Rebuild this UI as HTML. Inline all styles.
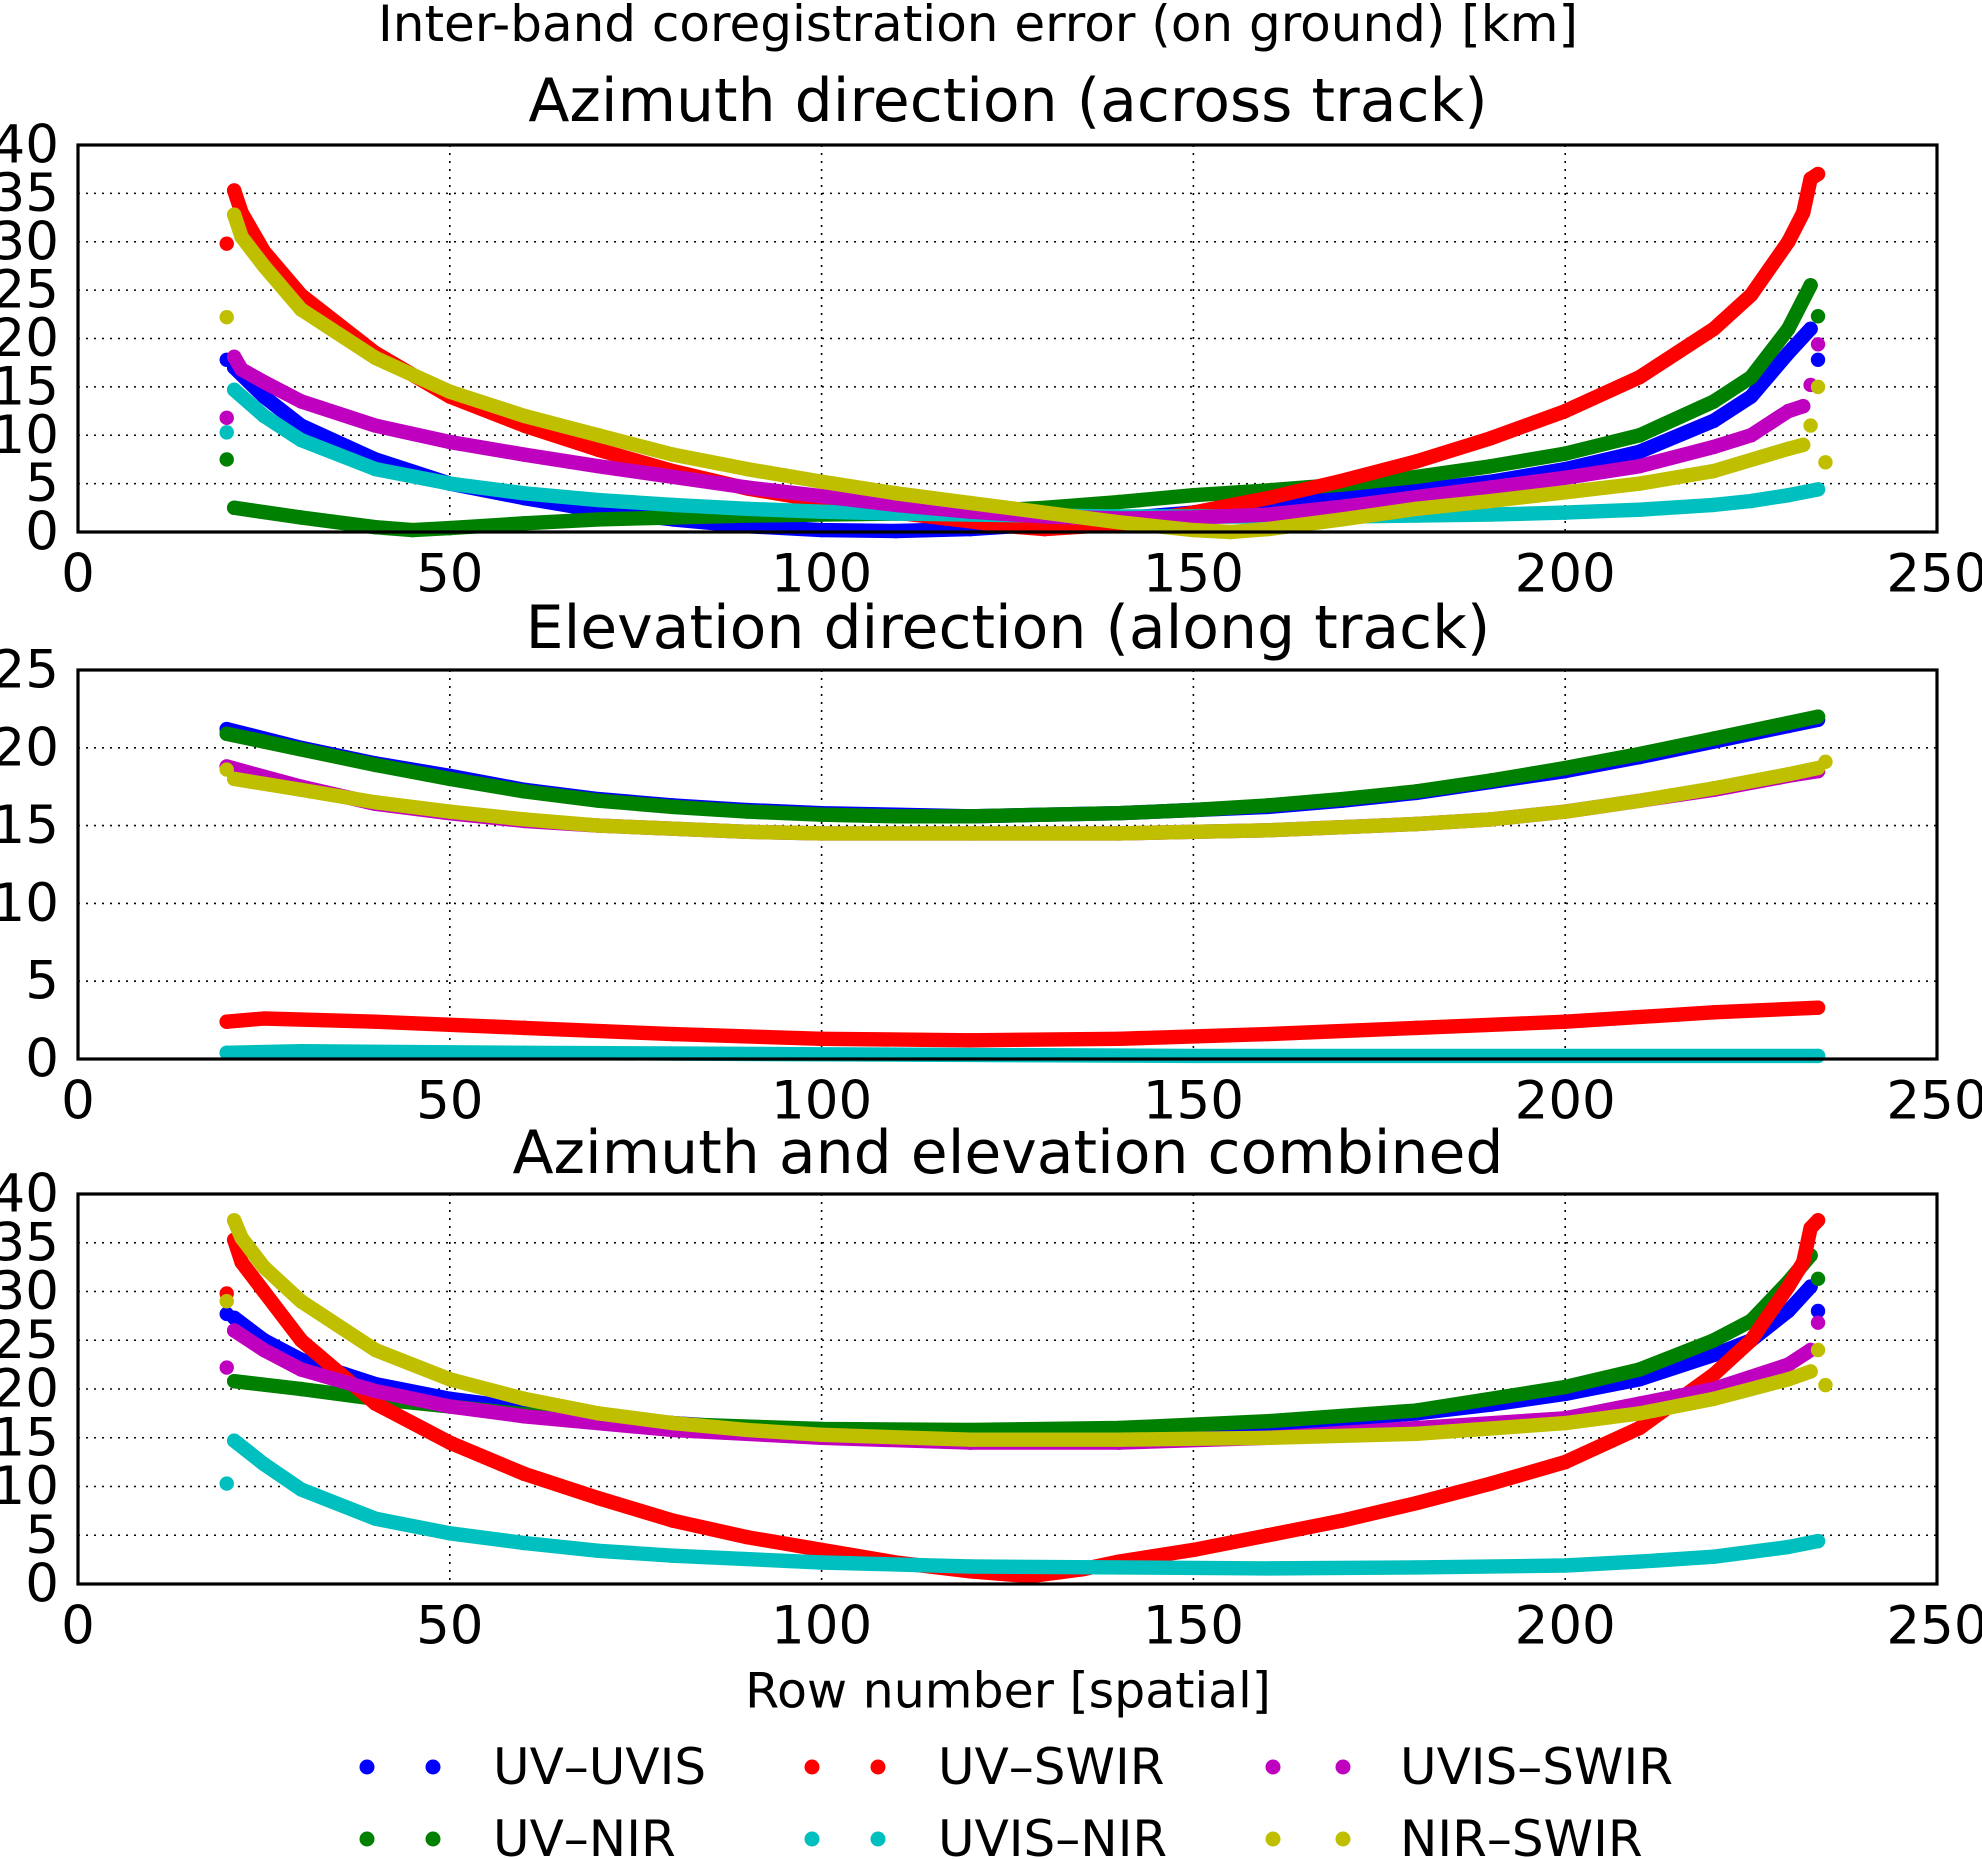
<!DOCTYPE html>
<html><head><meta charset="utf-8"><style>
html,body{margin:0;padding:0;background:#fff;}
svg{display:block;font-family:"DejaVu Sans","Liberation Sans",sans-serif;}
</style></head><body>
<svg id="fig" width="1982" height="1859" viewBox="0 0 1982 1859" xmlns="http://www.w3.org/2000/svg">
<text x="978" y="24" font-size="50" text-anchor="middle" dominant-baseline="central">Inter-band coregistration error (on ground) [km]</text>
<text x="1008" y="1691" font-size="49" text-anchor="middle" dominant-baseline="central">Row number [spatial]</text>
<g id="legend"></g>
</svg>
<script>
// ---- data ----
const seriesNames = ["UV–UVIS","UV–NIR","UV–SWIR","UVIS–NIR","UVIS–SWIR","NIR–SWIR"];
const seriesColors = ["#0000ff","#008000","#ff0000","#00bfbf","#bf00bf","#bfbf00"];
const xTicks = [0,50,100,150,200,250];
const panelTitles = ["Azimuth direction (across track)","Elevation direction (along track)","Azimuth and elevation combined"];
const yTicks1 = [0,5,10,15,20,25,30,35,40];
const yTicks2 = [0,5,10,15,20,25];
const yTicks3 = [0,5,10,15,20,25,30,35,40];

// Panel 1: azimuth
const az_blue_x = [21,25,30,40,50,60,70,80,90,100,110,120,130,140,150,160,170,180,190,200,210,220,225,230,233];
const az_blue_y = [17,14,11,7.5,5,3.5,2.2,1.3,0.6,0.2,0.1,0.3,0.8,1.4,2,2.7,3.5,4.3,5.2,6.5,8.3,11.5,14,18.5,21];
const az_blue_ox = [20,234]; const az_blue_oy = [17.8,17.8];
const az_green_x = [21,30,40,45,50,60,70,80,90,100,110,120,130,140,150,160,170,180,190,200,210,220,225,230,233];
const az_green_y = [2.5,1.5,0.5,0.2,0.4,0.9,1.3,1.5,1.7,1.8,1.9,2.1,2.5,3.1,3.8,4.3,4.9,5.7,6.8,8.1,10,13.5,16,21,25.5];
const az_green_ox = [20,234]; const az_green_oy = [7.5,22.3];
const az_red_x = [21,22,25,30,40,50,60,70,80,90,100,110,120,125,130,140,150,160,170,180,190,200,210,220,225,230,232,233,234];
const az_red_y = [35.3,33,29,24.5,18.5,14,11,8.5,6.3,4.5,3.2,2,1.1,0.6,0.3,0.8,2,3.5,5.3,7.3,9.7,12.5,16,21,24.5,30,33,36.5,37];
const az_red_ox = [20]; const az_red_oy = [29.8];
const az_cyan_x = [21,25,30,40,50,60,70,80,90,100,110,120,130,140,150,160,170,180,190,200,210,220,225,230,234];
const az_cyan_y = [14.7,12,9.5,6.5,5,4,3.3,2.8,2.4,2.1,1.9,1.8,1.7,1.6,1.6,1.6,1.6,1.7,1.8,2,2.3,2.8,3.2,3.8,4.4];
const az_cyan_ox = [20]; const az_cyan_oy = [10.3];
const az_mag_x = [21,22,25,30,40,50,60,70,80,90,100,110,120,130,140,150,160,170,180,190,200,210,220,225,230,232];
const az_mag_y = [18.1,16.8,15.5,13.5,11,9.3,8,6.8,5.7,4.6,3.7,2.8,2.1,1.6,1.4,1.5,1.8,2.6,3.6,4.6,5.6,6.8,8.8,10,12.5,13];
const az_mag_ox = [20,233,234]; const az_mag_oy = [11.8,15.2,19.4];
const az_yel_x = [21,22,25,30,40,50,60,70,80,90,100,110,120,130,140,150,155,160,170,180,190,200,210,220,230,232];
const az_yel_y = [32.8,30.5,27.5,23,18,14.5,12,10,8,6.5,5.2,4,3,2,1,0.2,0,0.3,1.3,2.4,3.2,4.1,5,6.3,8.6,9];
const az_yel_ox = [20,233,234,235]; const az_yel_oy = [22.2,11,15,7.2];

// Panel 2: elevation
const el_blue_x = [20,30,40,50,60,70,80,90,100,110,120,130,140,150,160,170,180,190,200,210,220,230,234];
const el_blue_y = [21.2,20,19,18.2,17.3,16.7,16.3,16,15.8,15.7,15.6,15.7,15.8,16,16.2,16.6,17.1,17.8,18.5,19.4,20.4,21.4,21.8];
const el_green_x = [20,30,40,50,60,70,80,90,100,110,120,130,140,150,160,170,180,190,200,210,220,230,234];
const el_green_y = [20.9,19.9,18.9,18,17.2,16.6,16.2,15.9,15.7,15.6,15.6,15.7,15.8,16,16.3,16.7,17.2,17.9,18.7,19.6,20.6,21.6,22];
const el_red_x = [20,25,40,60,80,100,120,140,160,180,200,220,234];
const el_red_y = [2.4,2.6,2.4,2,1.6,1.3,1.2,1.3,1.6,2,2.4,3,3.3];
const el_cyan_x = [20,30,60,100,150,234];
const el_cyan_y = [0.4,0.5,0.4,0.3,0.2,0.2];
const el_mag_x = [20,30,40,50,60,70,80,90,100,120,140,150,160,170,180,190,200,210,220,230,234];
const el_mag_y = [18.8,17.5,16.4,15.8,15.3,15,14.8,14.6,14.5,14.5,14.5,14.6,14.7,14.9,15.1,15.4,15.9,16.6,17.3,18.2,18.5];
const el_yel_x = [21,30,40,50,60,70,80,90,100,120,140,150,160,170,180,190,200,210,220,230,234];
const el_yel_y = [18,17.3,16.5,15.9,15.4,15,14.8,14.6,14.5,14.5,14.5,14.6,14.7,14.9,15.1,15.4,15.9,16.6,17.4,18.3,18.7];
const el_yel_ox = [20,235]; const el_yel_oy = [18.6,19.1];

// Panel 3: combined
const co_blue_x = [21,25,30,40,50,60,70,80,90,100,120,140,160,180,190,200,210,220,225,230,233];
const co_blue_y = [27.3,25,23,20.5,19,18,17.2,16.5,16,15.8,15.6,15.8,16.3,17.5,18.4,19.5,21,23.5,25,28,30.5];
const co_blue_ox = [20,234]; const co_blue_oy = [27.7,28];
const co_green_x = [21,30,40,50,60,80,100,120,140,160,180,200,210,220,225,230,233];
const co_green_y = [20.8,20,19,18.2,17.4,16.4,15.9,15.8,16,16.7,17.8,20.2,22,25,27,31,33.7];
const co_green_ox = [234]; const co_green_oy = [31.3];
const co_red_x = [21,22,25,30,40,50,60,70,80,90,100,110,120,128,135,140,150,160,170,180,190,200,210,220,225,230,232,233,234];
const co_red_y = [35.3,33,30,25,18.5,14.5,11.3,8.8,6.5,4.8,3.5,2.2,1.3,0.8,1.5,2.3,3.5,5,6.5,8.3,10.3,12.5,16,21.5,25,30.5,33,36.5,37.3];
const co_red_ox = [20]; const co_red_oy = [29.8];
const co_cyan_x = [21,25,30,40,50,60,70,80,100,120,140,160,180,200,210,220,230,234];
const co_cyan_y = [14.7,12.3,9.7,6.7,5.2,4.2,3.4,2.9,2.2,1.8,1.7,1.6,1.7,1.9,2.3,2.8,3.8,4.4];
const co_cyan_ox = [20]; const co_cyan_oy = [10.3];
const co_mag_x = [21,25,30,40,50,60,80,100,120,140,160,180,200,210,220,230,233];
const co_mag_y = [26,24,22,19.8,18.2,17.2,15.8,15,14.5,14.5,15,16,17,18.5,20,22.5,24];
const co_mag_ox = [20,234]; const co_mag_oy = [22.2,26.8];
const co_yel_x = [21,22,25,30,40,50,60,70,80,90,100,120,140,160,180,200,210,220,230,233];
const co_yel_y = [37.3,35.5,32.5,29,24,21,19,17.5,16.5,15.8,15.3,14.8,14.8,15,15.4,16.5,17.5,19,21,21.8];
const co_yel_ox = [20,234,235]; const co_yel_oy = [29,24,20.4];

const panels = [
 {top:145,bottom:532,ymax:40,yticks:yTicks1,titleY:101,series:[
  [az_blue_x,az_blue_y,az_blue_ox,az_blue_oy],[az_green_x,az_green_y,az_green_ox,az_green_oy],
  [az_red_x,az_red_y,az_red_ox,az_red_oy],[az_cyan_x,az_cyan_y,az_cyan_ox,az_cyan_oy],
  [az_mag_x,az_mag_y,az_mag_ox,az_mag_oy],[az_yel_x,az_yel_y,az_yel_ox,az_yel_oy]]},
 {top:670,bottom:1059,ymax:25,yticks:yTicks2,titleY:628,series:[
  [el_blue_x,el_blue_y,[],[]],[el_green_x,el_green_y,[],[]],
  [el_red_x,el_red_y,[],[]],[el_cyan_x,el_cyan_y,[],[]],
  [el_mag_x,el_mag_y,[],[]],[el_yel_x,el_yel_y,el_yel_ox,el_yel_oy]]},
 {top:1194,bottom:1584,ymax:40,yticks:yTicks3,titleY:1153,series:[
  [co_blue_x,co_blue_y,co_blue_ox,co_blue_oy],[co_green_x,co_green_y,co_green_ox,co_green_oy],
  [co_red_x,co_red_y,co_red_ox,co_red_oy],[co_cyan_x,co_cyan_y,co_cyan_ox,co_cyan_oy],
  [co_mag_x,co_mag_y,co_mag_ox,co_mag_oy],[co_yel_x,co_yel_y,co_yel_ox,co_yel_oy]]}
];

const NS="http://www.w3.org/2000/svg";
const svg=document.getElementById('fig');
const L=78,R=1937,R_DOT=7.2;
function mk(tag,attrs,parent){const e=document.createElementNS(NS,tag);for(const k in attrs)e.setAttribute(k,attrs[k]);(parent||svg).appendChild(e);return e;}
function xs(v){return L+(v/250)*(R-L);}

panels.forEach((p,pi)=>{
  const ys=v=>p.bottom-(v/p.ymax)*(p.bottom-p.top);
  const g=mk('g',{});
  
  
  const t=mk('text',{x:1008,y:p.titleY,'font-size':60,'text-anchor':'middle','dominant-baseline':'central'},g);
  t.textContent=panelTitles[pi];
  
  
  xTicks.forEach(v=>{
    if(v>0&&v<250){const l=mk('line',{x1:xs(v),x2:xs(v),y1:p.top,y2:p.bottom,stroke:'#000','stroke-width':1.6,'stroke-dasharray':'2,6'},g);
      
      }
    const tl=mk('text',{x:xs(v),y:p.bottom+42,'font-size':53,'text-anchor':'middle','dominant-baseline':'central'},g);
    tl.textContent=v;
    
    
  });
  p.yticks.forEach(v=>{
    if(v>0&&v<p.ymax){const l=mk('line',{x1:L,x2:R,y1:ys(v),y2:ys(v),stroke:'#000','stroke-width':1.6,'stroke-dasharray':'2,6'},g);
      
      }
    const tl=mk('text',{x:L-19,y:ys(v),'font-size':53,'text-anchor':'end','dominant-baseline':'central'},g);
    tl.textContent=v;
    
    
  });
  p.series.forEach((s,si)=>{
    const sg=mk('g',{fill:seriesColors[si],stroke:seriesColors[si]},g);
    
    
    const [mx,my,ox,oy]=s;
    const pts=mx.map((x,i)=>xs(x).toFixed(1)+','+ys(my[i]).toFixed(1)).join(' ');
    const pl=mk('polyline',{points:pts,fill:'none','stroke-width':R_DOT*2,'stroke-linecap':'round','stroke-linejoin':'round'},sg);
    
    
    mx.forEach((x,i)=>{const c=mk('circle',{cx:xs(x),cy:ys(my[i]),r:R_DOT,stroke:'none'},sg);
      
      });
    ox.forEach((x,i)=>{const c=mk('circle',{cx:xs(x),cy:ys(oy[i]),r:R_DOT,stroke:'none'},sg);
      
      });
  });
  const fr=mk('rect',{x:L,y:p.top,width:R-L,height:p.bottom-p.top,fill:'none',stroke:'#000','stroke-width':3.2},g);
  
  
});

const leg=document.getElementById('legend');
const legCols=[[367,433,493],[812,878,938],[1273,1343,1400]];
const legRows=[1767,1839];
seriesNames.forEach((n,i)=>{
  const col=Math.floor(i/2),row=i%2;
  const eg=mk('g',{},leg);
  
  
  [0,1].forEach(k=>{mk('circle',{cx:legCols[col][k],cy:legRows[row],r:7.5,fill:seriesColors[i]},eg);});
  const t=mk('text',{x:legCols[col][2],y:legRows[row],'font-size':50,'dominant-baseline':'central'},eg);
  t.textContent=n;
});
</script>
</body></html>
